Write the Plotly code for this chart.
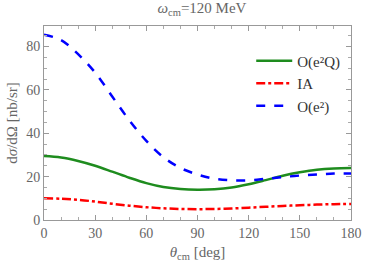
import plotly.graph_objects as go

theta = [0, 10, 20, 30, 40, 50, 60, 70, 80, 90, 100, 110, 120, 130, 140, 150, 160, 170, 180]
o_e2q = [29.5, 28.8, 27.2, 25.0, 22.3, 19.5, 17.0, 15.2, 14.3, 14.0, 14.2, 15.0, 16.5, 18.4, 20.4, 22.0, 23.2, 23.8, 24.0]
ia = [10.0, 9.8, 9.3, 8.5, 7.5, 6.6, 5.9, 5.4, 5.1, 5.0, 5.1, 5.3, 5.7, 6.1, 6.5, 6.8, 7.1, 7.3, 7.4]
o_e2 = [85.5, 83.0, 76.5, 68.0, 57.0, 46.0, 36.5, 29.0, 24.0, 21.0, 19.0, 18.3, 18.3, 19.0, 19.8, 20.5, 21.0, 21.4, 21.5]

x_ticks = [0, 30, 60, 90, 120, 150, 180]
y_ticks = [0, 20, 40, 60, 80]

FONT = "Liberation Serif, serif"
GRAY = "#666666"

fig = go.Figure()
fig.add_trace(go.Scatter(x=theta, y=o_e2q, mode="lines", name="O(e²Q)", legendgroup="a",
                         line=dict(color="#1e8c1e", width=2.5, shape="spline")))
fig.add_trace(go.Scatter(x=theta, y=ia, mode="lines", name="IA", legendgroup="b",
                         line=dict(color="#ff0000", width=2.5, dash="dashdot", shape="spline")))
fig.add_trace(go.Scatter(x=theta, y=o_e2, mode="lines", name="O(e²)", legendgroup="c",
                         line=dict(color="#0000ff", width=2.5, dash="dash", shape="spline")))

axis_common = dict(showgrid=False, zeroline=False, showline=True, mirror="ticks",
                   linecolor="#999999", linewidth=1, ticks="inside", ticklen=5,
                   tickcolor="#999999", tickfont=dict(family=FONT, size=14, color=GRAY))

fig.update_xaxes(range=[0, 180], tickvals=x_ticks,
                 minor=dict(ticks="inside", dtick=10, ticklen=3, tickcolor="#aaaaaa"),
                 title=dict(text="<i>θ</i><sub>cm</sub> [deg]", font=dict(family=FONT, size=15, color=GRAY), standoff=6),
                 **axis_common)
fig.update_yaxes(range=[0, 89.5], tickvals=y_ticks,
                 minor=dict(ticks="inside", dtick=5, ticklen=3, tickcolor="#aaaaaa"),
                 title=dict(text="d<i>σ</i>/dΩ [nb/sr]", font=dict(family=FONT, size=15, color=GRAY), standoff=4),
                 **axis_common)

fig.update_layout(
    width=374, height=269,
    font=dict(family=FONT),
    margin=dict(l=44, r=13, t=26, b=47),
    plot_bgcolor="white", paper_bgcolor="white",
    title=dict(text="<i>ω</i><sub>cm</sub>=120 MeV", x=0.54, xanchor="center", y=0.99, yanchor="top",
               font=dict(family=FONT, size=15, color=GRAY)),
    legend=dict(x=0.675, y=0.905, xanchor="left", yanchor="top", bgcolor="rgba(0,0,0,0)",
                font=dict(family=FONT, size=15, color="#333333"), itemwidth=36, tracegroupgap=0),
    showlegend=True,
)

fig.write_html("out.html", config={"displayModeBar": False},
               post_script="document.body.style.margin='0';document.body.style.overflow='hidden';")
